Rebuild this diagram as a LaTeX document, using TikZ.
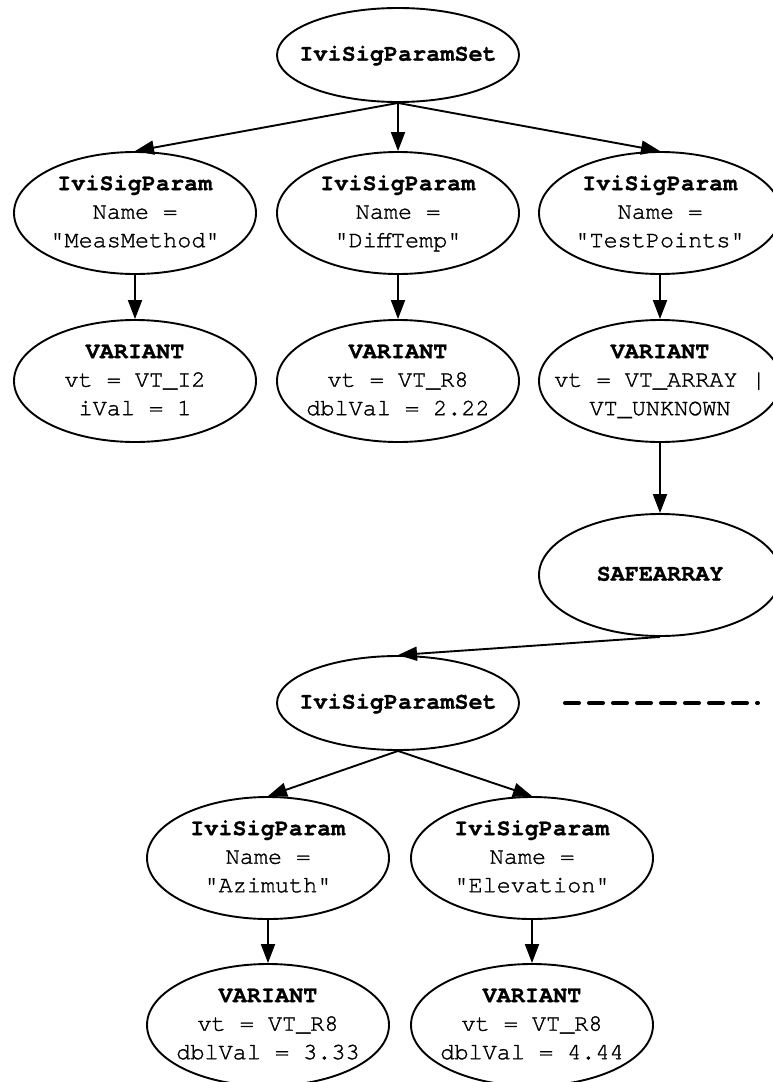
\documentclass[tikz,border=0pt]{standalone}
\usepackage{fontspec}
\setmonofont{texgyrecursor-regular.otf}[BoldFont=texgyrecursor-bold.otf,
  UprightFeatures={FakeBold=1.3},BoldFeatures={FakeBold=0.8}]
\usetikzlibrary{shapes.geometric,arrows.meta}
\newcommand\lbl[1]{\makebox[0pt]{\begin{tabular}{@{}c@{}}#1\end{tabular}}}
\begin{document}
\begin{tikzpicture}[x=1pt,y=-1pt,
  obj/.style={ellipse,draw,line width=1.9pt,inner sep=0pt,
    minimum width=242pt,font=\fontsize{23.5}{28.5}\selectfont\ttfamily},
  small/.style={obj,minimum height=94pt},
  big/.style={obj,minimum height=122pt},
  conn/.style={line width=1.9pt,-{Triangle[length=19pt,width=14pt]}}]
\useasboundingbox (0,0) rectangle (772,1082);
\node[small] (A) at (398,55) {\lbl{\textbf{IviSigParamSet}}};
\node[big] (B1) at (135,213) {\lbl{\textbf{IviSigParam}\\Name =\\"MeasMethod"}};
\node[big] (B2) at (398,213) {\lbl{\textbf{IviSigParam}\\Name =\\"DiffTemp"}};
\node[big] (B3) at (660,213) {\lbl{\textbf{IviSigParam}\\Name =\\"TestPoints"}};
\node[big] (C1) at (135,381) {\lbl{\textbf{VARIANT}\\vt = VT\_I2\\iVal = 1}};
\node[big] (C2) at (398,381) {\lbl{\textbf{VARIANT}\\vt = VT\_R8\\dblVal = 2.22}};
\node[big] (C3) at (660,381) {\lbl{\textbf{VARIANT}\\vt = VT\_ARRAY |\\VT\_UNKNOWN}};
\node[big] (D) at (660,575) {\lbl{\textbf{SAFEARRAY}}};
\node[small] (E) at (398,703) {\lbl{\textbf{IviSigParamSet}}};
\node[big] (F1) at (268,858) {\lbl{\textbf{IviSigParam}\\Name =\\"Azimuth"}};
\node[big] (F2) at (532,858) {\lbl{\textbf{IviSigParam}\\Name =\\"Elevation"}};
\node[big] (G1) at (268,1025) {\lbl{\textbf{VARIANT}\\vt = VT\_R8\\dblVal = 3.33}};
\node[big] (G2) at (532,1025) {\lbl{\textbf{VARIANT}\\vt = VT\_R8\\dblVal = 4.44}};
\coordinate (d1) at (565,703);
\coordinate (d2) at (758,703);
\draw[conn] (A.south) -- (B1.north);
\draw[conn] (A.south) -- (B2.north);
\draw[conn] (A.south) -- (B3.north);
\draw[conn] (B1) -- (C1);
\draw[conn] (B2) -- (C2);
\draw[conn] (B3) -- (C3);
\draw[conn] (C3) -- (D);
\draw[conn] (D.south) -- (E.north);
\draw[conn] (E.south) -- (F1.north);
\draw[conn] (E.south) -- (F2.north);
\draw[conn] (F1) -- (G1);
\draw[conn] (F2) -- (G2);
\draw[line width=4pt,line cap=round,dash pattern=on 14pt off 10pt] (d1) -- (d2);
\end{tikzpicture}
\end{document}
